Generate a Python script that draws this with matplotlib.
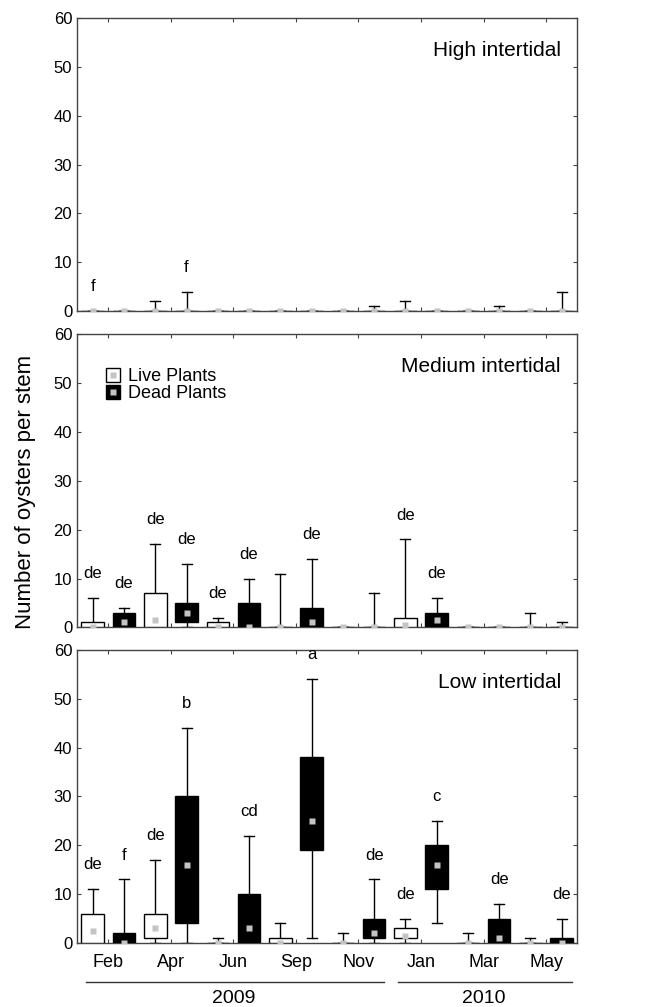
import numpy as np
import matplotlib
matplotlib.use('Agg')
import matplotlib.pyplot as plt
import matplotlib.transforms as mtransforms
from matplotlib.lines import Line2D

plt.rcParams['font.family'] = ['Liberation Sans', 'DejaVu Sans']

# months (each month has a live and a dead box)
months = ['Feb', 'Apr', 'Jun', 'Sep', 'Nov', 'Jan', 'Mar', 'May']
years = ['2009', '2009', '2009', '2009', '2009', '2010', '2010', '2010']
plant_type = ['Live', 'Dead'] * 8

# High intertidal
high_lo = [0, 0, 0, 0, 0, 0, 0, 0, 0, 0, 0, 0, 0, 0, 0, 0]
high_q1 = [0, 0, 0, 0, 0, 0, 0, 0, 0, 0, 0, 0, 0, 0, 0, 0]
high_med = [0, 0, 0, 0, 0, 0, 0, 0, 0, 0, 0, 0, 0, 0, 0, 0]
high_q3 = [0, 0, 0, 0, 0, 0, 0, 0, 0, 0, 0, 0, 0, 0, 0, 0]
high_hi = [0, 0, 2, 4, 0, 0, 0, 0, 0, 1, 2, 0, 0, 1, 0, 4]
high_letters = ['f', '', '', 'f', '', '', '', '', '', '', '', '', '', '', '', '']

# Medium intertidal
med_lo = [0, 0, 0, 0, 0, 0, 0, 0, 0, 0, 0, 0, 0, 0, 0, 0]
med_q1 = [0, 0, 0, 1, 0, 0, 0, 0, 0, 0, 0, 0, 0, 0, 0, 0]
med_med = [0, 1, 1.5, 3, 0, 0, 0, 1, 0, 0, 0.5, 1.5, 0, 0, 0, 0]
med_q3 = [1, 3, 7, 5, 1, 5, 0, 4, 0, 0, 2, 3, 0, 0, 0, 0]
med_hi = [6, 4, 17, 13, 2, 10, 11, 14, 0, 7, 18, 6, 0, 0, 3, 1]
med_letters = ['de', 'de', 'de', 'de', 'de', 'de', '', 'de', '', '', 'de', 'de', '', '', '', '']

# Low intertidal
low_lo = [0, 0, 0, 0, 0, 0, 0, 1, 0, 0, 0, 4, 0, 0, 0, 0]
low_q1 = [0, 0, 1, 4, 0, 0, 0, 19, 0, 1, 1, 11, 0, 0, 0, 0]
low_med = [2.5, 0, 3, 16, 0, 3, 0, 25, 0, 2, 1.5, 16, 0, 1, 0, 0]
low_q3 = [6, 2, 6, 30, 0, 10, 1, 38, 0, 5, 3, 20, 0, 5, 0, 1]
low_hi = [11, 13, 17, 44, 1, 22, 4, 54, 2, 13, 5, 25, 2, 8, 1, 5]
low_letters = ['de', 'f', 'de', 'b', '', 'cd', '', 'a', '', 'de', 'de', 'c', '', 'de', '', 'de']

panels = [
    ('High intertidal', high_lo, high_q1, high_med, high_q3, high_hi, high_letters),
    ('Medium intertidal', med_lo, med_q1, med_med, med_q3, med_hi, med_letters),
    ('Low intertidal', low_lo, low_q1, low_med, low_q3, low_hi, low_letters),
]

fig = plt.figure(figsize=(6.59, 10.07), dpi=100)
bottoms = [0.691, 0.377, 0.0636]
spine_col = '#444444'
pos = np.arange(len(plant_type))
month_pos = pos[::2] + 0.5

axes = []
for i, (name, lo, q1, med, q3, hi, letters) in enumerate(panels):
    ax = fig.add_axes([0.117, bottoms[i], 0.759, 0.291])
    axes.append(ax)
    stats = [dict(whislo=lo[j], q1=q1[j], med=med[j], q3=q3[j], whishi=hi[j])
             for j in range(len(pos))]
    bp = ax.bxp(stats, positions=pos, widths=0.72, capwidths=0.32,
                showfliers=False, patch_artist=True,
                boxprops=dict(edgecolor='black', linewidth=1.0),
                whiskerprops=dict(color='black', linewidth=1.0),
                capprops=dict(color='black', linewidth=1.0),
                medianprops=dict(linestyle='none', linewidth=0))
    for j, box in enumerate(bp['boxes']):
        box.set_facecolor('white' if plant_type[j] == 'Live' else 'black')
        box.set_zorder(3)
    ax.plot(pos, med, 's', ms=3.8, color='#c4c4c4', mec='none', zorder=5)

    for j, lab in enumerate(letters):
        if lab:
            ax.text(pos[j], hi[j] + 5, lab, ha='center', va='center', fontsize=12)

    ax.text(0.967, 0.89, name, transform=ax.transAxes, ha='right', va='center',
            fontsize=15)

    ax.set_xlim(-0.5, 15.5)
    ax.set_ylim(0, 60)
    ax.set_yticks(range(0, 61, 10))
    ax.set_xticks(month_pos)
    ax.tick_params(direction='in', top=True, right=True, length=3, width=0.8,
                   color=spine_col, labelsize=12, pad=3.5)
    for s in ax.spines.values():
        s.set_color(spine_col)
        s.set_linewidth(1.0)
    if i < 2:
        ax.tick_params(labelbottom=False)
    else:
        ax.set_xticklabels(months, fontsize=13)
        ax.tick_params(axis='x', pad=8)

# legend in the medium panel
live_h = (Line2D([], [], marker='s', ls='none', ms=10, mfc='white', mec='black', mew=1.0),
          Line2D([], [], marker='s', ls='none', ms=3.8, mfc='#c4c4c4', mec='none'))
dead_h = (Line2D([], [], marker='s', ls='none', ms=10, mfc='black', mec='black', mew=1.0),
          Line2D([], [], marker='s', ls='none', ms=3.8, mfc='#c4c4c4', mec='none'))
axes[1].legend([live_h, dead_h], ['Live Plants', 'Dead Plants'], loc='upper left',
               bbox_to_anchor=(0.035, 0.915), frameon=False, fontsize=13,
               handlelength=1.0, handletextpad=0.35, labelspacing=0.0, borderpad=0)

# year brackets under the month labels
ax3 = axes[2]
trans = mtransforms.blended_transform_factory(ax3.transData, ax3.transAxes)
year_names = sorted(set(years))
for yr in year_names:
    idx = [k for k, y in enumerate(years) if y == yr]
    x0 = month_pos[idx[0]] - 0.72
    x1 = month_pos[idx[-1]] + 0.82
    ax3.plot([x0, x1], [-0.133, -0.133], color='#333333', lw=1.0,
             transform=trans, clip_on=False)
    ax3.text((month_pos[idx[0]] + month_pos[idx[-1]]) / 2, -0.19, yr,
             transform=trans, ha='center', va='center', fontsize=14)

fig.text(0.039, 0.511, 'Number of oysters per stem', rotation=90,
         ha='center', va='center', fontsize=16)

fig.savefig('out.png', dpi=100)
